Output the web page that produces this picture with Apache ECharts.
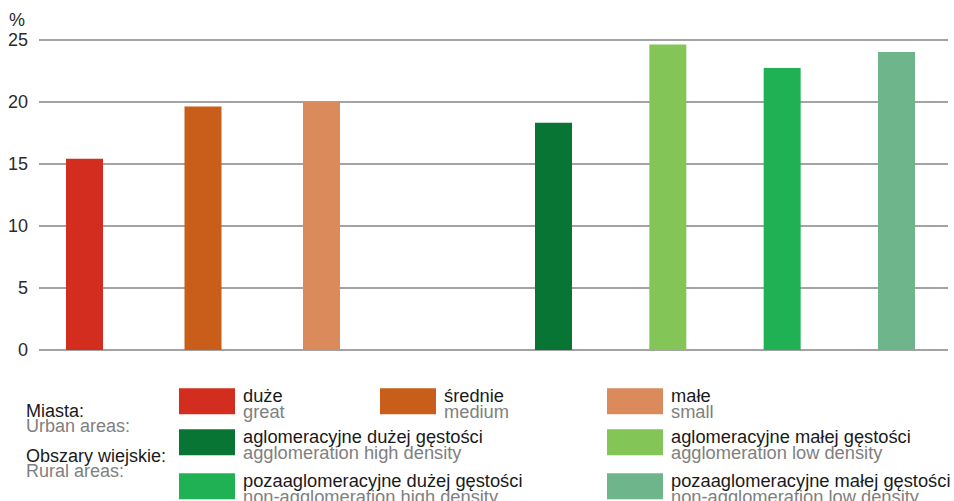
<!DOCTYPE html>
<html>
<head>
<meta charset="utf-8">
<script src="https://cdn.jsdelivr.net/npm/echarts@6/dist/echarts.min.js"></script>
<style>
html,body{margin:0;padding:0;background:#fff;}
#chart{width:954px;height:501px;}
</style>
</head>
<body>
<div id="chart"></div>
<script>
// ---- data ----
const urbanNames = ['duże', 'średnie', 'małe'];
const urbanNamesEn = ['great', 'medium', 'small'];
const urbanValues = [15.4, 19.6, 20.0];
const urbanColors = ['#D32D1F', '#C95E1A', '#DA8A5B'];

const ruralNames = ['aglomeracyjne dużej gęstości', 'aglomeracyjne małej gęstości', 'pozaaglomeracyjne dużej gęstości', 'pozaaglomeracyjne małej gęstości'];
const ruralNamesEn = ['agglomeration high density', 'agglomeration low density', 'non-agglomeration high density', 'non-agglomeration low density'];
const ruralValues = [18.3, 24.6, 22.7, 24.0];
const ruralColors = ['#087535', '#84C558', '#21B155', '#6EB58B'];

const yMin = 0, yMax = 25, yStep = 5;
const unitLabel = '%';
const groupLabels = [['Miasta:', 'Urban areas:'], ['Obszary wiejskie:', 'Rural areas:']];

// ---- build ----
const enMap = {};
urbanNames.forEach((n, i) => enMap[n] = urbanNamesEn[i]);
ruralNames.forEach((n, i) => enMap[n] = ruralNamesEn[i]);

const FONT = 'Liberation Sans, Arial, sans-serif';
const gridTop = 39.5, gridBottom = 151;

const series = [];
urbanNames.forEach((n, i) => {
  series.push({
    name: n, type: 'bar', xAxisIndex: 1, yAxisIndex: 1,
    barWidth: 37, barGap: '-100%',
    itemStyle: { color: urbanColors[i] },
    data: urbanValues.map((v, j) => j === i ? v : '-'),
    z: 3
  });
});
ruralNames.forEach((n, i) => {
  series.push({
    name: n, type: 'bar', xAxisIndex: 2, yAxisIndex: 2,
    barWidth: 37, barGap: '-100%',
    itemStyle: { color: ruralColors[i] },
    data: ruralValues.map((v, j) => j === i ? v : '-'),
    z: 3
  });
});

// legend layout: [name, left, top]
const legendPos = [
  [urbanNames[0], 179, 386],
  [urbanNames[1], 380, 386],
  [urbanNames[2], 607, 386],
  [ruralNames[0], 179, 427],
  [ruralNames[1], 607, 427],
  [ruralNames[2], 179, 471],
  [ruralNames[3], 607, 471]
];
const legends = legendPos.map(([n, l, t]) => ({
  data: [n], left: l, top: t, padding: 0,
  itemWidth: 56, itemHeight: 26, itemGap: 0,
  selectedMode: false,
  icon: 'rect',
  formatter: name => '{a|' + name + '}\n{b|' + enMap[name] + '}',
  textStyle: {
    padding: [3.5, 0, 0, 3],
    rich: {
      a: { fontFamily: FONT, fontSize: 18.3, color: '#1a1a1a', lineHeight: 16 },
      b: { fontFamily: FONT, fontSize: 18.3, color: '#808080', lineHeight: 16 }
    }
  }
}));

const hiddenX = (data) => ({
  type: 'category', data: data, show: false, boundaryGap: true
});
const hiddenY = (gi) => ({ type: 'value', gridIndex: gi, min: yMin, max: yMax, interval: yStep, show: false });

const option = {
  backgroundColor: '#fff',
  animation: false,
  textStyle: { fontFamily: FONT },
  grid: [
    { left: 39, right: 6, top: gridTop, bottom: gridBottom },
    { left: 25.25, width: 355.5, top: gridTop, bottom: gridBottom },
    { left: 496.33, width: 457.33, top: gridTop, bottom: gridBottom }
  ],
  xAxis: [
    { type: 'value', gridIndex: 0, min: 0, max: 1, show: false },
    Object.assign(hiddenX(urbanNames), { gridIndex: 1 }),
    Object.assign(hiddenX(ruralNames), { gridIndex: 2 })
  ],
  yAxis: [
    {
      type: 'value', gridIndex: 0, min: yMin, max: yMax, interval: yStep,
      axisLine: { show: false }, axisTick: { show: false },
      axisLabel: { color: '#2b2b2b', fontSize: 18, fontFamily: FONT, margin: 11 },
      splitLine: { show: true, lineStyle: { color: '#858585', width: 1.5 } }
    },
    hiddenY(1), hiddenY(2)
  ],
  legend: legends,
  graphic: [
    { type: 'text', left: 9, top: 11, style: { text: unitLabel, font: '18px ' + FONT, fill: '#2b2b2b' } },
    { type: 'text', x: 26, y: 410.8, style: { text: groupLabels[0][0], font: '18px ' + FONT, fill: '#1a1a1a', verticalAlign: 'middle' } },
    { type: 'text', x: 26, y: 425.5, style: { text: groupLabels[0][1], font: '18px ' + FONT, fill: '#808080', verticalAlign: 'middle' } },
    { type: 'text', x: 26, y: 455.5, style: { text: groupLabels[1][0], font: '18px ' + FONT, fill: '#1a1a1a', verticalAlign: 'middle' } },
    { type: 'text', x: 26, y: 470.5, style: { text: groupLabels[1][1], font: '18px ' + FONT, fill: '#808080', verticalAlign: 'middle' } }
  ],
  series: series
};

const chart = echarts.init(document.getElementById('chart'), null, { renderer: 'svg' });
chart.setOption(option);
</script>
</body>
</html>
